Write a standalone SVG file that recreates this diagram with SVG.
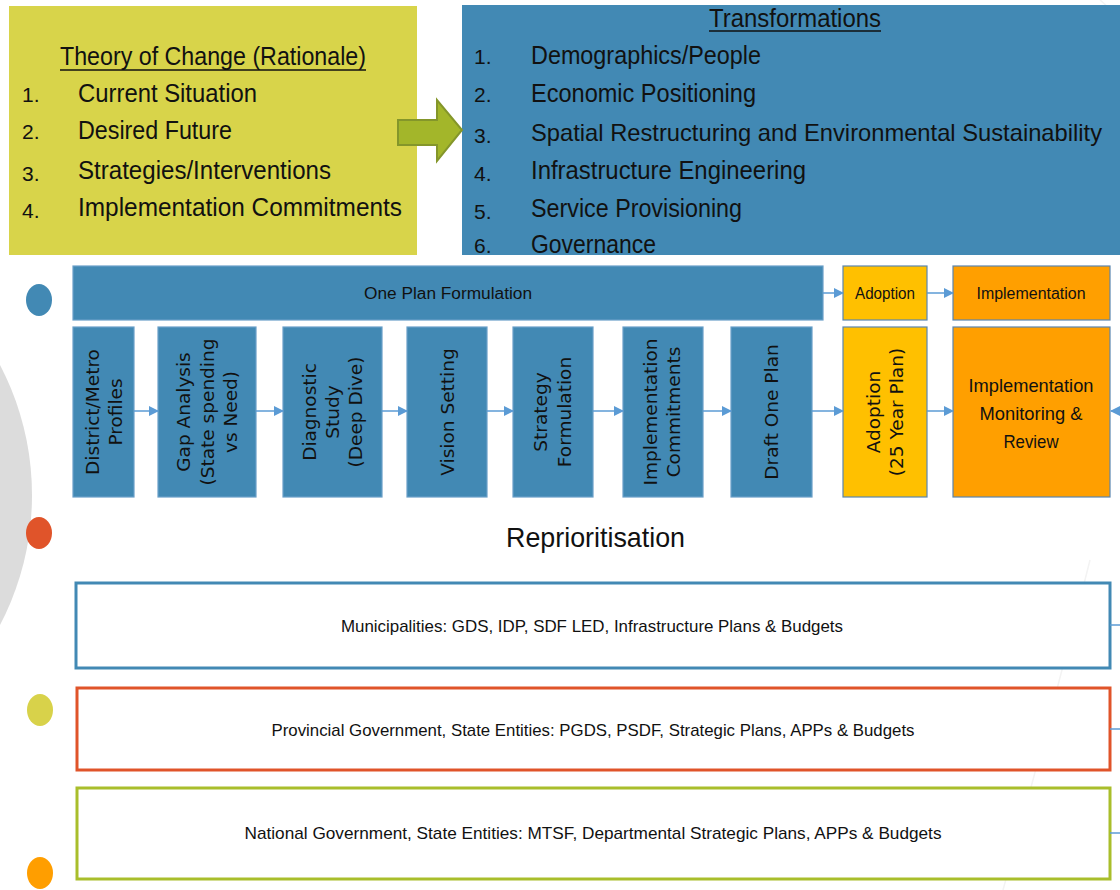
<svg xmlns="http://www.w3.org/2000/svg" width="1120" height="890" viewBox="0 0 1120 890">
<defs>
<style>
.cal{font-family:"Liberation Sans",Arial,sans-serif;fill:#111}
.big{font-size:25px}
.num{font-size:21px}
.rot{font-family:"DejaVu Sans",Verdana,sans-serif;font-size:18.5px;fill:#111;text-anchor:middle}
.bluebox{fill:#4289B4;stroke:#6A9FC8;stroke-width:1.2}
.conn{stroke:#5B9BD5;stroke-width:1.5;fill:none}
.small{font-size:16px;text-anchor:middle}
.mid{font-size:17px;text-anchor:middle}
</style>
<marker id="ah" markerWidth="10" markerHeight="10" refX="9" refY="5" orient="auto" markerUnits="userSpaceOnUse">
<path d="M0,0 L10,5 L0,10 z" fill="#5B9BD5"/>
</marker>
</defs>
<rect width="1120" height="890" fill="#fff"/>
<g id="background">
<circle cx="-248" cy="495" r="280" fill="#DCDCDC"/>
<path d="M1090,560 Q1050,720 1003,890" stroke="#F3F3F3" stroke-width="1.5" fill="none"/>
<path d="M1100,0 Q1112,10 1120,22" stroke="#F3F3F3" stroke-width="1.5" fill="none"/>
<ellipse cx="39" cy="300" rx="13" ry="16" fill="#4289B4"/>
<ellipse cx="39" cy="533" rx="13" ry="16" fill="#E0542A"/>
<ellipse cx="40" cy="710" rx="13" ry="16" fill="#D8D24A"/>
<ellipse cx="40" cy="873" rx="13" ry="16" fill="#FF9E00"/>
</g>
<g id="theory">
<rect x="9" y="6" width="408" height="249" fill="#D8D44A"/>
<text class="cal" x="60" y="65" font-size="26" textLength="306" lengthAdjust="spacingAndGlyphs">Theory of Change (Rationale)</text>
<line x1="60" y1="70" x2="366" y2="70" stroke="#111" stroke-width="1.5"/>
<text class="cal num" x="22" y="102">1.</text>
<text class="cal big" x="78" y="102" textLength="179" lengthAdjust="spacingAndGlyphs">Current Situation</text>
<text class="cal num" x="22" y="139">2.</text>
<text class="cal big" x="78" y="139" textLength="154" lengthAdjust="spacingAndGlyphs">Desired Future</text>
<text class="cal num" x="22" y="181">3.</text>
<text class="cal big" x="78" y="179" textLength="253" lengthAdjust="spacingAndGlyphs">Strategies/Interventions</text>
<text class="cal num" x="22" y="218">4.</text>
<text class="cal big" x="78" y="216" textLength="324" lengthAdjust="spacingAndGlyphs">Implementation Commitments</text>
</g>
<g id="transformations">
<rect x="462" y="5" width="658" height="250" fill="#4289B4"/>
<text class="cal big" x="709" y="27" textLength="172" lengthAdjust="spacingAndGlyphs">Transformations</text>
<line x1="709" y1="31" x2="881" y2="31" stroke="#111" stroke-width="1.5"/>
<text class="cal num" x="474" y="64">1.</text>
<text class="cal big" x="531" y="64" textLength="230" lengthAdjust="spacingAndGlyphs">Demographics/People</text>
<text class="cal num" x="474" y="102">2.</text>
<text class="cal big" x="531" y="102" textLength="225" lengthAdjust="spacingAndGlyphs">Economic Positioning</text>
<text class="cal num" x="474" y="143">3.</text>
<text class="cal" font-size="24" x="531" y="141" textLength="571" lengthAdjust="spacingAndGlyphs">Spatial Restructuring and Environmental Sustainability</text>
<text class="cal num" x="474" y="181">4.</text>
<text class="cal big" x="531" y="179" textLength="275" lengthAdjust="spacingAndGlyphs">Infrastructure Engineering</text>
<text class="cal num" x="474" y="219">5.</text>
<text class="cal big" x="531" y="217" textLength="211" lengthAdjust="spacingAndGlyphs">Service Provisioning</text>
<text class="cal num" x="474" y="253">6.</text>
<text class="cal big" x="531" y="253" textLength="125" lengthAdjust="spacingAndGlyphs">Governance</text>
</g>
<g id="bigArrow">
<polygon points="398,120 437,120 437,100 462,130 437,161 437,145 398,145" fill="#A3B62A" stroke="#84962A" stroke-width="2"/>
</g>
<g id="onePlan">
<rect class="bluebox" x="73" y="266" width="750" height="54"/>
<text class="cal small" x="448" y="299" textLength="168" lengthAdjust="spacingAndGlyphs">One Plan Formulation</text>
</g>
<g id="adoptionTop">
<rect x="843" y="266" width="84" height="54" fill="#FFC000" stroke="#5A85B0" stroke-width="1.2"/>
<text class="cal small" x="885" y="299" textLength="60" lengthAdjust="spacingAndGlyphs">Adoption</text>
</g>
<g id="implementationTop">
<rect x="953" y="266" width="157" height="54" fill="#FF9F00" stroke="#5A85B0" stroke-width="1.2"/>
<text class="cal small" x="1031" y="299" textLength="109" lengthAdjust="spacingAndGlyphs">Implementation</text>
</g>
<g id="profiles">
<rect class="bluebox" x="73" y="327" width="61" height="170"/>
<text class="rot" transform="translate(99,412) rotate(-90)">District/Metro</text>
<text class="rot" transform="translate(122,412) rotate(-90)">Profiles</text>
</g>
<g id="gap">
<rect class="bluebox" x="158" y="327" width="98" height="170"/>
<text class="rot" transform="translate(190,412) rotate(-90)">Gap Analysis</text>
<text class="rot" transform="translate(214,412) rotate(-90)">(State spending</text>
<text class="rot" transform="translate(237,412) rotate(-90)">vs Need)</text>
</g>
<g id="diagnostic">
<rect class="bluebox" x="283" y="327" width="99" height="170"/>
<text class="rot" transform="translate(316,412) rotate(-90)">Diagnostic</text>
<text class="rot" transform="translate(339,412) rotate(-90)">Study</text>
<text class="rot" transform="translate(362,412) rotate(-90)">(Deep Dive)</text>
</g>
<g id="vision">
<rect class="bluebox" x="407" y="327" width="80" height="170"/>
<text class="rot" transform="translate(454,412) rotate(-90)">Vision Setting</text>
</g>
<g id="strategy">
<rect class="bluebox" x="513" y="327" width="80" height="170"/>
<text class="rot" transform="translate(547,412) rotate(-90)">Strategy</text>
<text class="rot" transform="translate(571,412) rotate(-90)">Formulation</text>
</g>
<g id="commitments">
<rect class="bluebox" x="623" y="327" width="80" height="170"/>
<text class="rot" transform="translate(657,412) rotate(-90)">Implementation</text>
<text class="rot" transform="translate(680,412) rotate(-90)">Commitments</text>
</g>
<g id="draft">
<rect class="bluebox" x="731" y="327" width="81" height="170"/>
<text class="rot" transform="translate(778,412) rotate(-90)">Draft One Plan</text>
</g>
<g id="adoption25">
<rect x="843" y="327" width="84" height="170" fill="#FFC000" stroke="#5A85B0" stroke-width="1.2"/>
<text class="rot" transform="translate(880,412) rotate(-90)">Adoption</text>
<text class="rot" transform="translate(903,412) rotate(-90)">(25 Year Plan)</text>
</g>
<g id="monitoring">
<rect x="953" y="327" width="157" height="170" fill="#FF9F00" stroke="#5A85B0" stroke-width="1.2"/>
<text class="cal" font-size="19" text-anchor="middle" x="1031" y="392" textLength="125" lengthAdjust="spacingAndGlyphs">Implementation</text>
<text class="cal" font-size="19" text-anchor="middle" x="1031" y="420" textLength="103" lengthAdjust="spacingAndGlyphs">Monitoring &amp;</text>
<text class="cal" font-size="19" text-anchor="middle" x="1031" y="448" textLength="55" lengthAdjust="spacingAndGlyphs">Review</text>
</g>
<g id="reprioritisation">
<text class="cal" font-size="28" x="506" y="547" textLength="179" lengthAdjust="spacingAndGlyphs">Reprioritisation</text>
</g>
<g id="municipalities">
<rect x="76" y="583" width="1034" height="85" fill="#fff" stroke="#4289B4" stroke-width="3"/>
<text class="cal mid" x="592" y="632" textLength="502" lengthAdjust="spacingAndGlyphs">Municipalities: GDS, IDP, SDF LED, Infrastructure Plans &amp; Budgets</text>
</g>
<g id="provincial">
<rect x="77" y="688" width="1033" height="82" fill="#fff" stroke="#E0542A" stroke-width="3"/>
<text class="cal mid" x="593" y="736" textLength="643" lengthAdjust="spacingAndGlyphs">Provincial Government, State Entities: PGDS, PSDF, Strategic Plans, APPs &amp; Budgets</text>
</g>
<g id="national">
<rect x="77" y="788" width="1033" height="91" fill="#fff" stroke="#A9BE2B" stroke-width="3"/>
<text class="cal mid" x="593" y="839" textLength="697" lengthAdjust="spacingAndGlyphs">National Government, State Entities: MTSF, Departmental Strategic Plans, APPs &amp; Budgets</text>
</g>
<g id="connectors">
<line class="conn" x1="823" y1="293" x2="843" y2="293" marker-end="url(#ah)"/>
<line class="conn" x1="927" y1="293" x2="953" y2="293" marker-end="url(#ah)"/>
<line class="conn" x1="134" y1="411" x2="158" y2="411" marker-end="url(#ah)"/>
<line class="conn" x1="256" y1="411" x2="283" y2="411" marker-end="url(#ah)"/>
<line class="conn" x1="382" y1="411" x2="407" y2="411" marker-end="url(#ah)"/>
<line class="conn" x1="487" y1="411" x2="513" y2="411" marker-end="url(#ah)"/>
<line class="conn" x1="593" y1="411" x2="623" y2="411" marker-end="url(#ah)"/>
<line class="conn" x1="703" y1="411" x2="731" y2="411" marker-end="url(#ah)"/>
<line class="conn" x1="812" y1="411" x2="843" y2="411" marker-end="url(#ah)"/>
<line class="conn" x1="927" y1="411" x2="953" y2="411" marker-end="url(#ah)"/>
<line class="conn" x1="1122" y1="411" x2="1111" y2="411" marker-end="url(#ah)"/>
<line class="conn" x1="1110" y1="625" x2="1120" y2="625"/>
<line class="conn" x1="1110" y1="729" x2="1120" y2="729" stroke="#9DC3E6"/>
<line class="conn" x1="1110" y1="833" x2="1120" y2="833" stroke="#9DC3E6"/>
</g>
</svg>
